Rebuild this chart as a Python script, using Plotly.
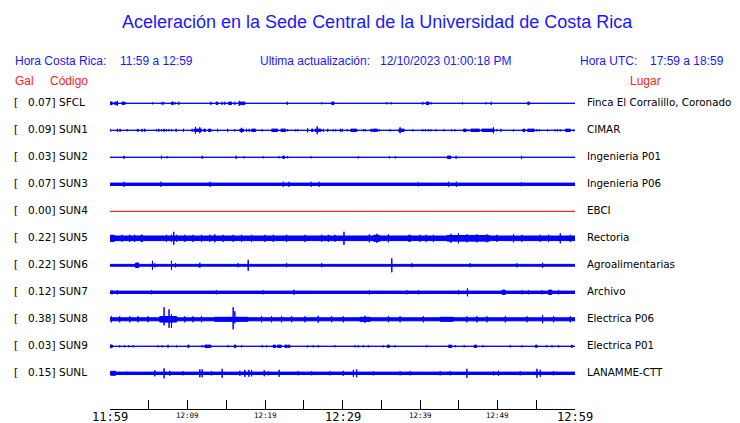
import plotly.graph_objects as go

# ---------------- data ----------------
codes = ["SFCL", "SUN1", "SUN2", "SUN3", "SUN4", "SUN5", "SUN6", "SUN7", "SUN8", "SUN9", "SUNL"]
gal = ["0.07", "0.09", "0.03", "0.07", "0.00", "0.22", "0.22", "0.12", "0.38", "0.03", "0.15"]
places = ["Finca El Corralillo, Coronado", "CIMAR", "Ingenieria P01", "Ingenieria P06", "EBCI",
          "Rectoria", "Agroalimentarias", "Archivo", "Electrica P06", "Electrica P01", "LANAMME-CTT"]

tick_minutes = [0, 5, 10, 15, 20, 25, 30, 35, 40, 45, 50, 55, 60]
tick_labels_major = {0: "11:59", 30: "12:29", 60: "12:59"}
tick_labels_minor = {10: "12:09", 20: "12:19", 40: "12:39", 50: "12:49"}

# background amplitude of each trace (relative units)
base_amp = [0, 0, 0, 1.2, 0, 2.3, 0.9, 1.2, 1.5, 0, 1.2]

# events: (minute, duration in minutes, amplitude up, [amplitude down])
SFCL_events = [(0.0,0.3,1.3),(0.6,0.3,1.3),(0.96,0,2.5),(1.55,0.3,1.3),(1.99,0,1),(5.48,0,1),(6.72,0,1.5),
    (6.98,0,1),(7.95,0.25,1.3),(8.45,0,1),(8.88,0,1.5),(13.01,0,1.5),(13.7,0.2,1.3),(14.47,0,1.5),(14.82,0,1.5),
    (15.3,0.4,1.3),(16.11,0,1.5),(16.67,0,2.5),(16.8,0.6,1.3),(22.87,0,1.5),(27.31,0,1),(28.6,0.3,1.3),(35.71,0,1),
    (36.27,0,1),(40.3,0.1,1),(40.8,0.35,1.3),(41.47,0,1),(45.48,0,1),(48.5,0,1),(49.19,0,1.5),(53.9,0.2,1.3)]
SUN1_events = [(0.0,0,1.5),(0.95,0,1.5),(1.3,0,1.5),(2.2,0,1),(3.5,0.15,1),(4.14,0,1.5),(4.48,0,1.5),(5.99,0,1),
    (6.29,0,1.5),(6.64,0,1),(6.98,0,1.5),(7.28,0,1),(7.58,0,1),(7.93,0,1),(8.53,0,1.5),(9.48,0,1.5),(10.6,0,1.5),
    (10.85,0.96,1.2),(11.03,0,3.5),(11.59,0,3),(12.1,0.23,1.2),(12.71,0.3,1.2),(13.88,0,1.5),(15.17,0,1.5),
    (16.11,0,1),(16.76,0.48,1.2),(16.97,0,2.5),(17.62,0,1.5),(17.96,0,1.5),(18.27,0.52,1.2),(19.64,0,1),
    (20.85,0.78,1.2),(22.05,0.61,1.2),(22.92,0,1),(23.95,0,1),(24.21,0,1),(25.5,0,2),(26.0,0.2,1.2),
    (26.45,0.77,1.2),(26.74,0,4),(27.52,0,1.5),(28.09,0,1.5),(28.81,0,1),(29.12,0,1),(29.72,0,1.5),(29.97,0,1.5),
    (30.62,0,1),(31.06,0.77,1.2),(32.69,0,1),(32.95,0,1),(33.64,0.26,1),(33.98,0.52,1.2),(34.75,0,1),(36.14,0,1),
    (37.26,0.69,1.2),(37.43,0,3),(39.07,0,1),(40.36,0,1),(40.7,0,1),(41.09,0,1),(41.4,0,1),(42.08,0,1),(43.11,0,1),
    (44.06,0,1),(44.5,0,1),(45.61,0.35,1.2),(46.21,0,1),(46.56,1.11,1.2),(47.98,1.59,1.2),(49.48,0,3),(49.92,0,1),
    (50.44,0,1.5),(52.07,0,1),(53.28,0.26,1.2),(53.88,0.86,1.2),(55.09,0,1),(55.43,0,1),(56.46,0,1),(57.42,0,1),
    (57.75,0,1),(58.1,0,1),(58.79,0.6,1.2),(59.82,0,1)]
SUN2_events = [(1.81,0,1.5),(6.64,0,1.5),(7.36,0,1),(11.89,0,1.5),(16.28,0,1.5),(17.31,0,1),(19.77,0,1),(21.8,0,1),
    (22.3,0.2,1.3),(22.92,0,1),(25.97,0,1),(32.04,0,1),(36.05,0,1),(36.82,0,1),(43.54,0.44,1.3),(44.66,0,1.5),
    (53.1,0,1.5)]
SUN3_events = [(1.81,0,2.5),(6.55,0,2.5),(12.92,0,2.5),(22.35,0,2.5),(23.09,0,2.5),(25.97,0,2.5),(27.0,0,2.5),
    (39.79,0,2),(43.67,0,2.5),(44.7,0,2.5),(53.1,0,2)]
SUN4_events = []
SUN5_events = [(0.0,0.6,3),(1.55,0,3.5),(2.55,0,3.5),(3.19,0,3.5),(4.0,0.2,3.3),(7.28,0,3.5),(7.93,0,3.5),
    (8.23,0,6.5),(8.58,0,3.5),(9.65,0,3.5),(10.72,0,3.5),(11.81,0,3.5),(12.88,0,3.5),(13.53,0,4),(14.6,0,3.5),
    (15.89,0,3.5),(16.98,0,3.5),(18.27,0,3.5),(19.99,0,3.5),(21.06,0,3.5),(22.79,0,3.5),(25.16,0,3.5),(27.31,0,3.5),
    (28.17,0,3.5),(29.03,0,3.5),(30.19,0,6.5),(33.46,0,4),(34.0,0.8,3.0),(34.42,0,4.5),(35.92,0,4),(38.5,0.3,3.0),
    (40.01,0,3.5),(40.79,0,3.5),(41.73,0,3.5),(43.5,5.5,2.8),(43.98,0,4.5),(44.96,0,5),(46.05,0,4),(47.34,0,4),
    (48.63,0,4),(49.92,0,3.5),(52.07,0,4),(53.15,0,3.5),(55.52,0,3.5),(56.59,0,3.5),(58.1,0,5),(59.39,0,3.5)]
SUN6_events = [(3.3,0.4,2.3),(5.48,0,4.5),(5.78,0,2),(7.93,0,4.5),(8.45,0,2),(11.59,0,2.5),(16.54,0,2),
    (17.83,0,5.5),(22.79,0,2),(27.31,0,2),(36.36,0,7),(38.94,0,2),(46.47,0,2),(52.5,0,2),(55.82,0,2.5)]
SUN7_events = [(0.26,0,2),(0.95,0,2),(5.35,0,2),(13.74,0,2),(19.77,0,2),(23.73,0,2.5),(25.37,0,1.5),(33.46,0,2),
    (38.29,0,2),(39.79,0,2),(44.96,0,2),(46.12,0,4),(50.6,0.4,2.2),(53.15,0,2),(54.01,0,2),(55.73,0,2),
    (56.6,0.4,2.2),(57.88,0,2)]
SUN8_events = [(0.18,0,3,3),(1.25,0,3,3),(2.55,0,3,3),(3.62,0,3,3),(4.91,0,3,3),(6.42,2.16,2.8,2.8),(6.98,0,12,6),
    (7.62,0,10,8.5),(7.93,0,5,8.5),(9.65,0,3,3),(10.72,0,3,3),(11.81,0,3,3),(13.5,4.3,2.0,2.0),(15.89,0,12,10),
    (16.11,0,8,4),(19.56,0,3,3),(20.85,0,3,3),(22.14,0,3,3),(23.44,0,3,3),(25.16,0,3,3),(26.87,0,3.5,3.5),
    (28.6,0,3,3),(30.1,0,3,3),(32.26,1.3,2.0,2.0),(32.91,0,3.5,3.5),(35.92,0,3,3),(37.43,0,3,3),(40.44,0,3,3),
    (42.6,1.7,2.0,2.0),(46.05,0,3,3),(47.34,0,3,3),(48.63,0,3,3),(51.0,0,3,3),(53.8,0,3,3),(55.82,0,4,4),
    (57.24,0,3,3),(59.39,0,3,3)]
SUN9_events = [(0.0,0.3,1.3),(1.25,0,1),(1.9,0,1),(2.42,0,1),(2.97,0,1),(6.2,0,1),(6.72,0,1),(7.49,0,1.5),(8.58,0,1),
    (10.05,0.15,1.3),(11.89,0,1),(12.24,0.77,1.2),(15.25,0,1),(16.05,0.2,1.3),(16.98,0,1),(19.64,0,1),(20.21,0,1),
    (21.06,0.3,1.2),(21.6,0.5,1.2),(22.57,0.3,1.2),(23.0,0.22,1.2),(25.5,0,1),(26.23,0,1),(26.87,0,1),(29.03,0,1),
    (31.62,0,1),(32.04,0,1),(32.69,0,1),(33.33,0,1),(35.27,0,1),(35.8,0.25,1.2),(36.78,0,1),(40.88,0,1),
    (43.7,0.4,1.2),(44.54,0,1),(45.7,0,1),(47.0,0.3,1.2),(48.11,0,1),(51.64,0,1),(53.15,0,1),(54.9,0.2,1.2),
    (56.38,0,1),(57.03,0,1),(57.88,0,1),(59.5,0.2,1)]
SUNL_events = [(0.1,0.6,2),(2.12,0,1.5),(5.78,0,3),(6.98,0,5),(7.71,0,2.5),(9.43,0,2),(11.59,0,4),(11.89,0,4),
    (13.1,0,2),(14.47,0,4.5),(16.76,0,2.5),(17.4,0,3.5),(17.92,0,3.5),(18.27,0,3),(19.9,0,3),(20.41,0,2),
    (21.83,0,3.5),(24.29,0,2),(26.02,0,2),(28.38,0,2),(30.1,0,2.5),(31.4,0,3.5),(31.83,0,4),(33.98,0,2),
    (37.43,0,2),(38.72,0,2),(42.6,0,2),(43.89,0,2),(46.05,0,4.5),(49.48,0,2),(50.13,0,2.5),(52.93,0,2),
    (55.09,0,4.5),(55.52,0,3.5),(57.24,0,2)]

events = [SFCL_events, SUN1_events, SUN2_events, SUN3_events, SUN4_events, SUN5_events,
          SUN6_events, SUN7_events, SUN8_events, SUN9_events, SUNL_events]

# ---------------- layout constants ----------------
W, H = 740, 423
L, R, T, B = 110, 165, 90, 14
PW, PH = W - L - R, H - T - B
AMP = 1 / 27.0          # relative amplitude unit -> row units
YMAX = 0.4926
YMIN = YMAX - PH / 27.0
BLUE = "#0000ff"
TBLUE = "#1818ff"


def px_x(p):
    return (p - L) / PW


def px_y(p):
    return (T + PH - p) / PH


fig = go.Figure()

for i, code in enumerate(codes):
    row = -i
    if code == "SUN4":
        fig.add_trace(go.Scatter(x=[0, 60], y=[row, row], mode="lines",
                                 line=dict(color="#dd0000", width=1), hoverinfo="skip", showlegend=False))
        continue
    xs, ys = [], []
    b = base_amp[i] * AMP
    xs += [0, 60, 60, 0, 0, None]
    ys += [row - b, row - b, row + b, row + b, row - b, None]
    for ev in events[i]:
        t, d = ev[0], ev[1]
        up = ev[2]
        dn = ev[3] if len(ev) > 3 else ev[2]
        y0, y1 = row - dn * AMP, row + up * AMP
        xs += [t, t + d, t + d, t, t, None]
        ys += [y0, y0, y1, y1, y0, None]
    fig.add_trace(go.Scatter(x=xs, y=ys, mode="lines", fill="toself", fillcolor=BLUE,
                             line=dict(color=BLUE, width=1), hoverinfo="skip", showlegend=False))

ann = []
ann.append(dict(text="Aceleración en la Sede Central de la Universidad de Costa Rica", x=px_x(377), y=px_y(22),
                xref="paper", yref="paper", xanchor="center", yanchor="middle", showarrow=False,
                font=dict(family="Liberation Sans", size=18, color=TBLUE)))
hdr = [("Hora Costa Rica:", 13), ("11:59 a 12:59", 118), ("Ultima actualización:", 258),
       ("12/10/2023 01:00:18 PM", 378), ("Hora UTC:", 578), ("17:59 a 18:59", 648)]
for txt, xp in hdr:
    ann.append(dict(text=txt, x=px_x(xp), y=px_y(61), xref="paper", yref="paper", xanchor="left",
                    yanchor="middle", showarrow=False, font=dict(family="Liberation Sans", size=12, color=TBLUE)))
for txt, xp in [("Gal", 13), ("Código", 48), ("Lugar", 628)]:
    ann.append(dict(text=txt, x=px_x(xp), y=px_y(81), xref="paper", yref="paper", xanchor="left",
                    yanchor="middle", showarrow=False, font=dict(family="Liberation Sans", size=12, color="#ff2020")))

lab_font = dict(family="DejaVu Sans", size=10.5, color="black")
for i, code in enumerate(codes):
    ann.append(dict(text="[", x=px_x(12), y=-i, xref="paper", yref="y", xanchor="left", yanchor="middle",
                    showarrow=False, font=lab_font, yshift=1))
    ann.append(dict(text=gal[i] + "]", x=px_x(56.5), y=-i, xref="paper", yref="y", xanchor="right",
                    yanchor="middle", showarrow=False, font=lab_font, yshift=1))
    ann.append(dict(text=code, x=px_x(56.5), y=-i, xref="paper", yref="y", xanchor="left",
                    yanchor="middle", showarrow=False, font=lab_font, yshift=1))
    ann.append(dict(text=places[i], x=px_x(585), y=-i, xref="paper", yref="y", xanchor="left",
                    yanchor="middle", showarrow=False, font=dict(family="DejaVu Sans", size=10.3, color="black"),
                    yshift=1))

for m, txt in tick_labels_major.items():
    ann.append(dict(text=txt, x=m, y=0, xref="x", yref="paper", xanchor="center", yanchor="middle",
                    showarrow=False, yshift=-8, font=dict(family="DejaVu Sans Mono", size=12, color="black")))
for m, txt in tick_labels_minor.items():
    ann.append(dict(text=txt, x=m, y=0, xref="x", yref="paper", xanchor="center", yanchor="middle",
                    showarrow=False, yshift=-6.5, font=dict(family="DejaVu Sans Mono", size=7.5, color="black")))

fig.update_layout(
    width=W, height=H, margin=dict(l=L, r=R, t=T, b=B, pad=0),
    paper_bgcolor="white", plot_bgcolor="white", showlegend=False,
    annotations=ann,
    xaxis=dict(range=[0, 60], tickvals=tick_minutes, showticklabels=False, ticks="inside", ticklen=9,
               tickcolor="black", tickwidth=1, showline=True, linecolor="black", linewidth=1,
               showgrid=False, zeroline=False, fixedrange=True),
    yaxis=dict(range=[YMIN, YMAX], visible=False, fixedrange=True),
)

fig.write_html("out.html", config={"displayModeBar": False},
               post_script="document.body.style.margin='0px';document.body.style.overflow='hidden';")
